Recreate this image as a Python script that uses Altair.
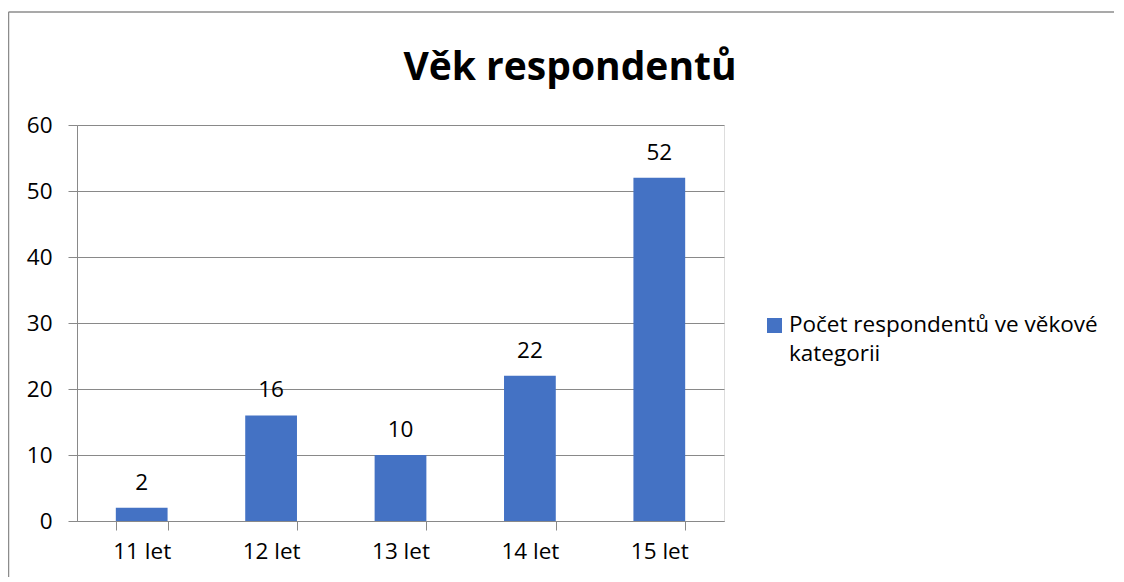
import altair as alt
import pandas as pd

categories = ["11 let", "12 let", "13 let", "14 let", "15 let"]
values = [2, 16, 10, 22, 52]
series_name = "Počet respondentů ve věkové kategorii"
legend_lines = ["Počet respondentů ve věkové", "kategorii"]
title_text = "Věk respondentů"

df = pd.DataFrame({"Věk": categories, "Počet": values})

FONT = "Open Sans"
BLUE = "#4472C4"
GRID = "#898989"

x = alt.X("Věk:N", sort=categories, title=None,
          scale=alt.Scale(paddingInner=0.6, paddingOuter=0.3),
          axis=alt.Axis(labelAngle=0, labelFont=FONT, labelFontSize=22.5, labelColor="#000000",
                        labelPadding=10, tickBand="extent", tickSize=9, tickColor=GRID,
                        domainColor=GRID, grid=False))
y = alt.Y("Počet:Q", title=None,
          scale=alt.Scale(domain=[0, 60], nice=False),
          axis=alt.Axis(values=[0, 10, 20, 30, 40, 50, 60], labelFont=FONT, labelFontSize=22.5,
                        labelColor="#000000", labelPadding=16, tickSize=9, tickColor=GRID,
                        domainColor=GRID, gridColor=GRID))

bars = alt.Chart(df).mark_bar(color=BLUE).encode(x=x, y=y)
labels = alt.Chart(df).mark_text(font=FONT, fontSize=22.5, color="#000000", baseline="alphabetic",
                                 dy=-18).encode(x=alt.X("Věk:N", sort=categories), y="Počet:Q",
                                                text="Počet:Q")

one = alt.Data(values=[{}])
leg_sq = alt.Chart(one).mark_square(color=BLUE, opacity=1, size=225).encode(
    x=alt.value(697.5), y=alt.value(200.5))
leg_txt1 = alt.Chart(one).mark_text(font=FONT, fontSize=22.5, color="#000000", align="left",
                                    baseline="alphabetic").encode(
    x=alt.value(712), y=alt.value(207), text=alt.value(legend_lines[0]))
leg_txt2 = alt.Chart(one).mark_text(font=FONT, fontSize=22.5, color="#000000", align="left",
                                    baseline="alphabetic").encode(
    x=alt.value(712), y=alt.value(236), text=alt.value(legend_lines[1]))
title_mark = alt.Chart(one).mark_text(font=FONT, fontSize=39, fontWeight="bold", color="#000000",
                                      align="center", baseline="alphabetic").encode(
    x=alt.value(493), y=alt.value(-45), text=alt.value(title_text))

border_left = alt.Chart(one).mark_rule(color="#8c8c8c", strokeWidth=1.5).encode(
    x=alt.value(-68.5), y=alt.value(-113), y2=alt.value(460))
border_top = alt.Chart(one).mark_rule(color="#8c8c8c", strokeWidth=1.5).encode(
    y=alt.value(-113), x=alt.value(-68.5), x2=alt.value(1040))

chart = alt.layer(border_left, border_top, bars, labels, leg_sq, leg_txt1, leg_txt2,
                  title_mark).properties(
    width=647, height=396,
    padding={"left": 69, "top": 117, "right": 390, "bottom": 56},
    autosize=alt.AutoSizeParams(type="none"),
).configure_view(stroke=None).configure(background="white")

chart.save("out.html", embed_options={"renderer": "svg", "actions": False})
